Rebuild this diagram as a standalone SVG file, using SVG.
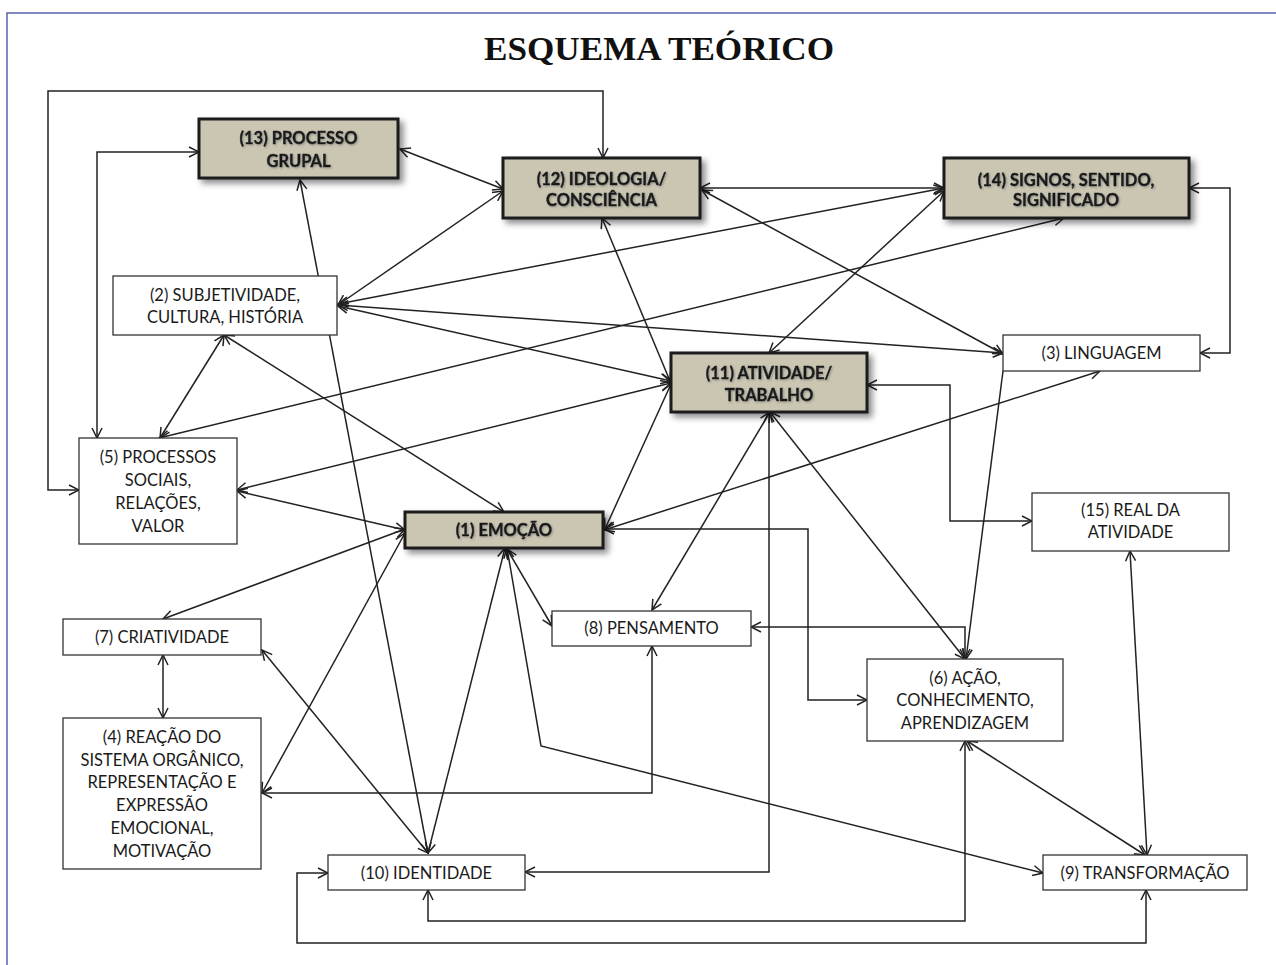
<svg xmlns="http://www.w3.org/2000/svg" width="1276" height="965" viewBox="0 0 1276 965">
<defs>
<style>
.frame{fill:none;stroke:#5a63ad;stroke-width:1.5}
.title{font-family:"Liberation Serif","Times New Roman",serif;font-weight:bold;font-size:34px;fill:#111}
.c{fill:none;stroke:#222;stroke-width:1.5;marker-start:url(#a);marker-end:url(#a)}
.c1{fill:none;stroke:#222;stroke-width:1.5;marker-end:url(#a)}
.sb{fill:#cbc6b2;stroke:#1c1c1c;stroke-width:3;filter:url(#sh)}
.wb{fill:#fff;stroke:#333;stroke-width:1.3}
.st{font-family:Lato,"Liberation Sans",sans-serif;font-weight:bold;font-size:16.5px;fill:#1a1a1a;stroke:#1a1a1a;stroke-width:0.45;text-anchor:middle;filter:url(#ts)}
.wt{font-family:Lato,"Liberation Sans",sans-serif;font-size:16.5px;fill:#1a1a1a;text-anchor:middle}
</style>
<marker id="a" viewBox="0 0 12 12" refX="11" refY="6" markerWidth="12" markerHeight="12" orient="auto-start-reverse" markerUnits="userSpaceOnUse">
<path d="M1,1 L11,6 L1,11" fill="none" stroke="#222" stroke-width="1.5"/>
</marker>
<filter id="sh" x="-10%" y="-20%" width="130%" height="160%">
<feDropShadow dx="4" dy="4" stdDeviation="3" flood-color="#000" flood-opacity="0.45"/>
</filter>
<filter id="ts" x="-10%" y="-30%" width="120%" height="160%">
<feDropShadow dx="1" dy="1" stdDeviation="0.8" flood-color="#777" flood-opacity="0.7"/>
</filter>
</defs>
<rect x="0" y="0" width="1276" height="965" fill="#fff"/>
<path class="frame" d="M7,965 V13 H1276"/>
<text class="title" x="659" y="60" text-anchor="middle" textLength="350" lengthAdjust="spacingAndGlyphs">ESQUEMA TEÓRICO</text>

<g id="connectors">
<path class="c" d="M79,490 H48 V91 H603 V158"/>
<path class="c" d="M97,438 V152 H199"/>
<path class="c" d="M400,149 L503,189"/>
<path class="c" d="M338,305 L503,191"/>
<path class="c" d="M300,180 L428,853"/>
<path class="c" d="M338,305 L1003,353"/>
<path class="c" d="M338,306 L671,381"/>
<path class="c" d="M338,304 L944,188"/>
<path class="c" d="M700,188 L944,188"/>
<path class="c" d="M702,190 L1003,354"/>
<path class="c" d="M769,353 L944,191"/>
<path class="c" d="M159,438 L1064,218"/>
<path class="c" d="M160,438 L224,335"/>
<path class="c" d="M237,490 L671,383"/>
<path class="c" d="M237,491 L405,530"/>
<path class="c" d="M224,335 L504,512"/>
<path class="c" d="M671,384 L605,529"/>
<path class="c" d="M1100,371 L604,530"/>
<path class="c" d="M602,218 L670,381"/>
<path class="c" d="M405,529 L163,619"/>
<path class="c" d="M405,533 L262,793"/>
<path class="c" d="M163,655 V718"/>
<path class="c" d="M262,650 L428,853"/>
<path class="c" d="M505,548 L428,853"/>
<path class="c" d="M507,548 L541,746 L1043,873"/>
<path class="c" d="M507,549 L552,626"/>
<path class="c" d="M604,529 H808 V700 H867"/>
<path class="c" d="M770,412 L652,610"/>
<path class="c" d="M769,412 V872 H525"/>
<path class="c" d="M770,412 L965,659"/>
<path class="c" d="M867,385 H950 V521 H1032"/>
<path class="c1" d="M1003,371 L966,659"/>
<path class="c" d="M1189,188 H1230 V353 H1200"/>
<path class="c" d="M751,627 H965 V659"/>
<path class="c" d="M652,646 V793 H262"/>
<path class="c" d="M965,741 V921 H428 V890"/>
<path class="c" d="M328,873 H297 V943 H1146 V890"/>
<path class="c" d="M967,741 L1145,855"/>
<path class="c" d="M1130,551 L1147,855"/>
</g>

<g id="n13"><rect class="sb" x="199" y="119" width="199" height="59"/><text class="st" x="298.5" y="144">(13) PROCESSO</text><text class="st" x="298.5" y="167">GRUPAL</text></g>
<g id="n12"><rect class="sb" x="503" y="158" width="197" height="60"/><text class="st" x="601.5" y="185">(12) IDEOLOGIA/</text><text class="st" x="601.5" y="206">CONSCIÊNCIA</text></g>
<g id="n14"><rect class="sb" x="944" y="158" width="245" height="60"/><text class="st" x="1066" y="186">(14) SIGNOS, SENTIDO,</text><text class="st" x="1066" y="206">SIGNIFICADO</text></g>
<g id="n11"><rect class="sb" x="671" y="353" width="196" height="59"/><text class="st" x="769" y="379">(11) ATIVIDADE/</text><text class="st" x="769" y="401">TRABALHO</text></g>
<g id="n1"><rect class="sb" x="405" y="512" width="198" height="36"/><text class="st" x="504" y="536">(1) EMOÇÃO</text></g>
<g id="n2"><rect class="wb" x="113" y="276" width="224" height="59"/><text class="wt" x="225" y="301">(2) SUBJETIVIDADE,</text><text class="wt" x="225" y="323">CULTURA, HISTÓRIA</text></g>
<g id="n3"><rect class="wb" x="1003" y="335" width="197" height="36"/><text class="wt" x="1101.5" y="359">(3) LINGUAGEM</text></g>
<g id="n5"><rect class="wb" x="79" y="438" width="158" height="106"/><text class="wt" x="158" y="463">(5) PROCESSOS</text><text class="wt" x="158" y="486">SOCIAIS,</text><text class="wt" x="158" y="509">RELAÇÕES,</text><text class="wt" x="158" y="532">VALOR</text></g>
<g id="n15"><rect class="wb" x="1032" y="493" width="197" height="58"/><text class="wt" x="1130.5" y="516">(15) REAL DA</text><text class="wt" x="1130.5" y="538">ATIVIDADE</text></g>
<g id="n7"><rect class="wb" x="63" y="619" width="198" height="36"/><text class="wt" x="162" y="643">(7) CRIATIVIDADE</text></g>
<g id="n8"><rect class="wb" x="552" y="611" width="199" height="35"/><text class="wt" x="651.5" y="634">(8) PENSAMENTO</text></g>
<g id="n6"><rect class="wb" x="867" y="659" width="196" height="82"/><text class="wt" x="965" y="684">(6) AÇÃO,</text><text class="wt" x="965" y="706">CONHECIMENTO,</text><text class="wt" x="965" y="729">APRENDIZAGEM</text></g>
<g id="n4"><rect class="wb" x="63" y="718" width="198" height="151"/><text class="wt" x="162" y="743">(4) REAÇÃO DO</text><text class="wt" x="162" y="766">SISTEMA ORGÂNICO,</text><text class="wt" x="162" y="788">REPRESENTAÇÃO E</text><text class="wt" x="162" y="811">EXPRESSÃO</text><text class="wt" x="162" y="834">EMOCIONAL,</text><text class="wt" x="162" y="857">MOTIVAÇÃO</text></g>
<g id="n10"><rect class="wb" x="328" y="855" width="197" height="35"/><text class="wt" x="426.5" y="879">(10) IDENTIDADE</text></g>
<g id="n9"><rect class="wb" x="1043" y="855" width="204" height="35"/><text class="wt" x="1145" y="879">(9) TRANSFORMAÇÃO</text></g>
</svg>
